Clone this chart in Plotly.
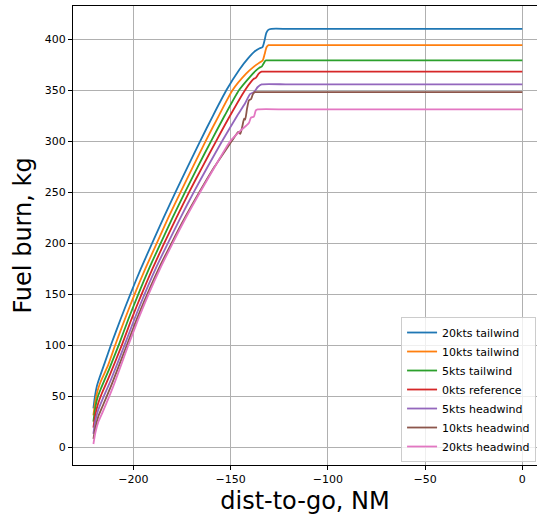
import plotly.graph_objects as go

# ---- data (dist-to-go in NM, cumulative fuel burn in kg) ----
labels = ["20kts tailwind", "10kts tailwind", "5kts tailwind", "0kts reference",
          "5kts headwind", "10kts headwind", "20kts headwind"]
colors = ["#1f77b4", "#ff7f0e", "#2ca02c", "#d62728", "#9467bd", "#8c564b", "#e377c2"]

tail20_x = [-220.5, -219.7, -218.7, -217.2, -214.6, -211.5, -206.6, -201.5, -196.1, -190.3,
            -184.4, -178.3, -172.0, -165.6, -159.0, -152.1, -145.5, -141, -137.5, -135,
            -133.6, -132.6, -131.6, -130.6, -129, -120, -60, 0]
tail20_y = [38, 50, 60, 69, 83, 100, 125, 150, 175, 200, 225, 250, 275, 300, 325, 350, 370,
            381, 388, 391, 392, 398, 406, 409, 410, 410, 410, 410]

tail10_x = [-220.5, -219.6, -218.4, -216.8, -213, -209.3, -204.4, -199.3, -193.8, -187.9,
            -182.0, -175.7, -169.3, -162.8, -156.0, -148.9, -142, -138, -135, -133.5, -132.5,
            -131.5, -130.5, -129, -120, -60, 0]
tail10_y = [31, 44, 55, 64, 80, 100, 125, 150, 175, 200, 225, 250, 275, 300, 325, 350, 366,
            373, 377, 379, 385, 392, 394, 394, 394, 394, 394]

tail5_x = [-220.5, -219.6, -218.3, -216.5, -212.5, -207.5, -202.6, -197.4, -191.9, -185.9,
           -179.8, -173.4, -166.8, -160.0, -153.0, -145.6, -140, -137, -135, -134, -133, -132,
           -131, -120, -60, 0]
tail5_y = [25, 38, 49, 58, 76, 100, 125, 150, 175, 200, 225, 250, 275, 300, 325, 350, 363,
           369, 372, 373, 376, 379, 379, 379, 379, 379]

ref0_x = [-220.5, -219.6, -218.2, -216.3, -212, -205.9, -201.0, -195.7, -190.1, -184.1, -177.8,
          -171.3, -164.4, -157.4, -150.2, -142.5, -139.5, -138, -137, -135.5, -134, -132.5,
          -120, -60, 0]
ref0_y = [19, 31, 42, 52, 71, 100, 125, 150, 175, 200, 225, 250, 275, 300, 325, 350, 358,
          361, 362, 366, 368, 368, 368, 368, 368]

head5_x = [-220.5, -219.6, -218.1, -216, -211.5, -204.5, -199.5, -194.2, -188.5, -182.2,
           -175.7, -168.9, -161.7, -154.3, -146.5, -142.5, -140, -138, -136, -134, -120, -60, 0]
head5_y = [13, 25, 36, 46, 66, 100, 125, 150, 175, 200, 225, 250, 275, 300, 325, 337, 346,
           348, 353, 355.5, 355.5, 355.5, 355.5]

head10_x = [-220.5, -219.5, -218, -215.8, -211, -203.3, -198.3, -192.8, -186.9, -180.3,
            -173.4, -166.0, -158.2, -150.1, -148.3, -146, -145, -144, -143, -142.5, -141.5,
            -140.5, -139.5, -138.5, -137.5, -136.5, -120, -60, 0]
head10_y = [8, 19, 30, 40, 62, 100, 125, 150, 175, 200, 225, 250, 275, 298, 303, 309, 307,
            314, 322, 321, 332, 340, 341, 346, 348, 348, 348, 348, 348]

head20_x = [-220.5, -219.5, -217.9, -215.6, -210.6, -202.5, -197.5, -192.1, -186.2, -179.7,
            -172.9, -165.6, -158.0, -150.1, -145, -142, -140.5, -139.5, -138, -137, -136,
            -120, -60, 0]
head20_y = [3, 14, 25, 35, 58, 100, 125, 150, 175, 200, 225, 250, 275, 300, 310, 315, 318,
            323, 324, 330, 331, 331, 331, 331]

series_x = [tail20_x, tail10_x, tail5_x, ref0_x, head5_x, head10_x, head20_x]
series_y = [tail20_y, tail10_y, tail5_y, ref0_y, head5_y, head10_y, head20_y]

x_ticks = [-200, -150, -100, -50, 0]
y_ticks = [0, 50, 100, 150, 200, 250, 300, 350, 400]

fig = go.Figure()
for lab, col, xs, ys in zip(labels, colors, series_x, series_y):
    fig.add_trace(go.Scatter(x=xs, y=ys, mode="lines", name=lab,
                             line=dict(color=col, width=1.8, shape="spline", smoothing=0.6)))

axis_common = dict(
    showgrid=True, gridcolor="#b0b0b0", gridwidth=0.8, zeroline=False,
    showline=True, linecolor="black", linewidth=1,
    ticks="outside", ticklen=4, tickwidth=0.8, tickcolor="black",
    tickfont=dict(family="DejaVu Sans", size=11, color="black"),
)

fig.update_layout(
    width=537, height=519,
    margin=dict(l=73, r=0, t=6, b=54, autoexpand=False),
    paper_bgcolor="white", plot_bgcolor="white",
    font=dict(family="DejaVu Sans", color="black"),
    xaxis=dict(range=[-231, 7.56], tickvals=x_ticks, mirror=True,
               title=dict(text="dist-to-go, NM", font=dict(size=24, family="DejaVu Sans"),
                          standoff=6),
               **axis_common),
    yaxis=dict(range=[-17.6, 432.4], tickvals=y_ticks,
               title=dict(text="Fuel burn, kg", font=dict(size=24, family="DejaVu Sans"),
                          standoff=6),
               **axis_common),
    legend=dict(x=0.998, y=0.0065, xanchor="right", yanchor="bottom",
                bgcolor="rgba(255,255,255,0.8)", bordercolor="#cccccc", borderwidth=1,
                font=dict(family="DejaVu Sans", size=11, color="black"),
                tracegroupgap=0, itemwidth=30),
    showlegend=True,
)

fig.write_html("out.html")
